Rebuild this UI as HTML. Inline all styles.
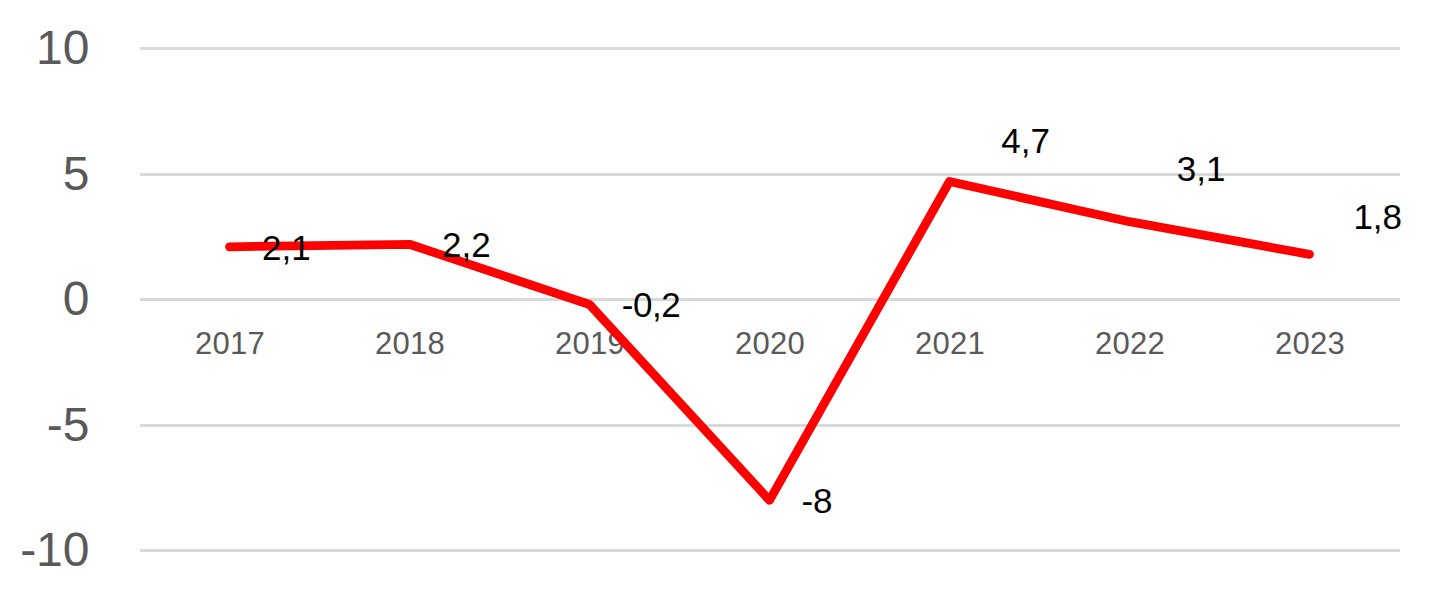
<!DOCTYPE html>
<html><head><meta charset="utf-8"><style>
html,body{margin:0;padding:0;background:#fff;width:1437px;height:593px;overflow:hidden;position:relative}
.t{position:absolute;font-family:"Liberation Sans",sans-serif;line-height:1;white-space:nowrap}
.g{position:absolute;left:140px;width:1260px;height:3px;background:#d9d9d9}
.yl{font-size:48px;color:#595959;width:100px;left:-10.5px;text-align:right}
.xl{font-size:31px;color:#595959;width:120px;text-align:center;letter-spacing:0.3px}
.dl{font-size:35px;color:#000}
svg{position:absolute;left:0;top:0}
</style></head><body>

<div class="g" style="top:47px"></div>
<div class="g" style="top:173px"></div>
<div class="g" style="top:298px"></div>
<div class="g" style="top:424px"></div>
<div class="g" style="top:549px"></div>
<div class="t yl" style="top:24px">10</div>
<div class="t yl" style="top:150px">5</div>
<div class="t yl" style="top:275px">0</div>
<div class="t yl" style="top:401px">-5</div>
<div class="t yl" style="top:526px">-10</div>
<div class="t xl" style="left:170.0px;top:328.0px">2017</div>
<div class="t xl" style="left:350.0px;top:328.0px">2018</div>
<div class="t xl" style="left:530.0px;top:328.0px">2019</div>
<div class="t xl" style="left:710.0px;top:328.0px">2020</div>
<div class="t xl" style="left:890.0px;top:328.0px">2021</div>
<div class="t xl" style="left:1070.0px;top:328.0px">2022</div>
<div class="t xl" style="left:1250.0px;top:328.0px">2023</div>
<svg width="1437" height="593"><polyline points="229.5,246.79 409.5,244.28 589.5,304.52 769.5,500.30 949.5,181.53 1129.5,221.69 1309.5,254.32" fill="none" stroke="#ff0000" stroke-width="8.8" stroke-linecap="round" stroke-linejoin="round"/></svg>
<div class="t dl" style="left:262.1px;top:229.8px">2,1</div>
<div class="t dl" style="left:442.1px;top:226.8px">2,2</div>
<div class="t dl" style="left:621.8px;top:286.7px;letter-spacing:-0.5px">-0,2</div>
<div class="t dl" style="left:801.4px;top:482.9px">-8</div>
<div class="t dl" style="left:1001.2px;top:122.9px">4,7</div>
<div class="t dl" style="left:1176.8px;top:150.6px">3,1</div>
<div class="t dl" style="left:1353.4px;top:198.9px">1,8</div>
</body></html>
